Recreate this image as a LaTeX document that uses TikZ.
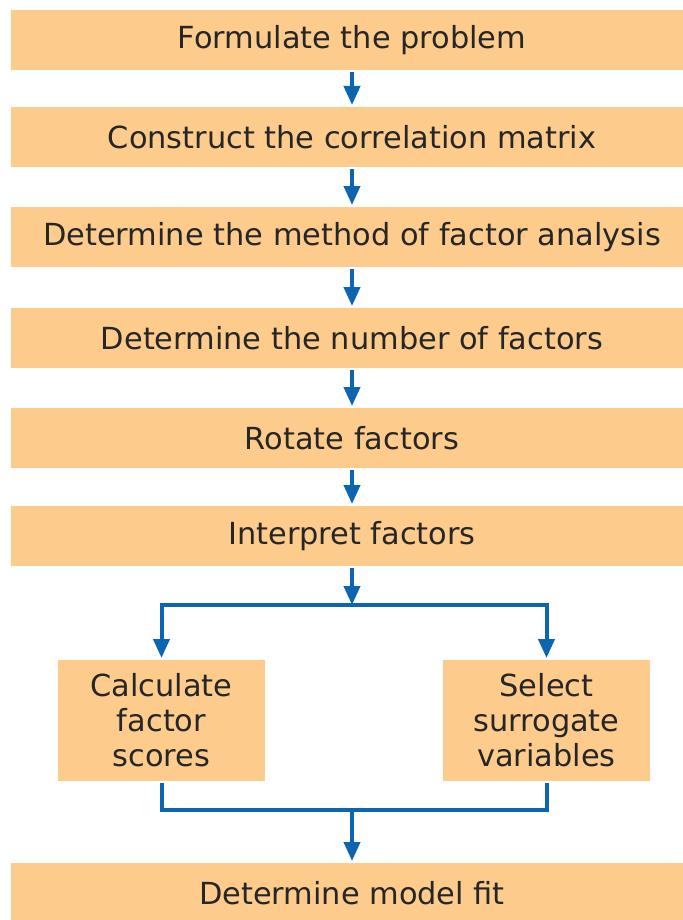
\documentclass[tikz,border=0pt]{standalone}
\usepackage{fontspec}
\setmainfont{DejaVu Sans}
\usetikzlibrary{arrows.meta, positioning, calc}
\definecolor{cfill}{HTML}{FDCB8C}
\definecolor{cblue}{HTML}{0B65B1}
\definecolor{ctext}{HTML}{262626}
\tikzset{
  every picture/.style={line width=2pt},
  box/.style={fill=cfill, text=ctext, align=center, inner sep=0pt, font=\fontsize{15.2}{17.5}\selectfont},
  wide/.style={box, minimum width=341pt, minimum height=30pt},
  small/.style={box, minimum width=103.5pt, minimum height=60.5pt},
  arrow/.style={-{Triangle[length=9.5pt, width=8pt]}, draw=cblue},
  link/.style={draw=cblue},
}

\begin{document}
\begin{tikzpicture}[x=0.5pt, y=-0.5pt]
  \clip (0,0) rectangle (683,920);

  % ---- main steps
  \node[wide] (form) at (352,40)  {Formulate the problem};
  \node[wide] (corr) at (352,137) {Construct the correlation matrix};
  \node[wide] (meth) at (352,237) {Determine the method of factor analysis};
  \node[wide] (num)  at (352,338) {Determine the number of factors};
  \node[wide] (rot)  at (352,438) {Rotate factors};
  \node[wide] (intp) at (352,536) {Interpret factors};

  % ---- two branches
  \node[small] (calc) at (161.5,720.5) {Calculate\\factor\\scores};
  \node[small] (sel)  at (546.5,720.5) {Select\\surrogate\\variables};

  \node[wide] (fit) at (352,893) {Determine model fit};

  \coordinate (split) at (352,605);
  \coordinate (join)  at (352,810);

  \draw[arrow] (form) -- (corr);
  \draw[arrow] (corr) -- (meth);
  \draw[arrow] (meth) -- (num);
  \draw[arrow] (num) -- (rot);
  \draw[arrow] (rot) -- (intp);
  \draw[arrow] (intp) -- (split);
  \draw[arrow] (split) -| (calc.north);
  \draw[arrow] (split) -| (sel.north);

  % merge
  \draw[link] (calc.south) |- (join) -| (sel.south);
  \draw[arrow] (join) -- (fit);
\end{tikzpicture}
\end{document}
